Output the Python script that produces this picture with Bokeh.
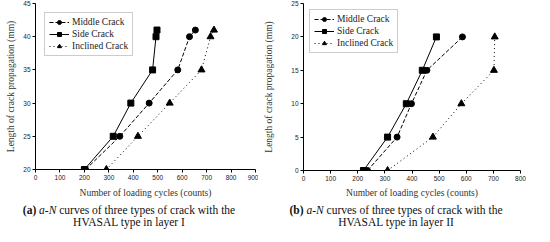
from bokeh.plotting import figure
from bokeh.models import Range1d, Legend, LegendItem, Div
from bokeh.layouts import row, column
from bokeh.embed import file_html
from bokeh.resources import INLINE

# ---- data (a) layer I ----
a_len = [20, 25, 30, 35, 40, 41]
a_middle = [205, 345, 465, 582, 630, 654]
a_side = [200, 318, 390, 479, 493, 497]
a_incl = [290, 419, 549, 679, 716, 730]

# ---- data (b) layer II ----
b_len = [0, 5, 10, 15, 20]
b_middle = [236, 345, 398, 455, 586]
b_side = [221, 310, 379, 438, 490]
b_incl = [310, 477, 582, 702, 705]

a_xticks = list(range(0, 901, 100))
a_yticks = list(range(20, 46, 5))
b_xticks = list(range(0, 801, 100))
b_yticks = list(range(0, 26, 5))

SERIF = "Liberation Serif"
SANS = "Liberation Sans"


def make_fig(xs_list, ylen, xr, yr, xticks, yticks, w, h, bl, br, bt, bb,
             ylab_standoff, xlab_standoff, legend_margin):
    p = figure(width=w, height=h, output_backend="svg", toolbar_location=None,
               x_range=Range1d(*xr), y_range=Range1d(*yr),
               min_border_left=bl, min_border_right=br,
               min_border_top=bt, min_border_bottom=bb)
    p.outline_line_color = None
    p.grid.visible = False
    p.background_fill_color = "white"
    for ax in (p.xaxis[0], p.yaxis[0]):
        ax.axis_line_color = "black"
        ax.axis_line_width = 1
        ax.major_tick_line_color = "black"
        ax.minor_tick_line_color = "black"
        ax.major_tick_out = 3
        ax.major_tick_in = 0
        ax.minor_tick_out = 2
        ax.minor_tick_in = 0
        ax.major_label_text_font = SANS
        ax.major_label_text_font_size = "6.5px"
        ax.major_label_text_color = "#222222"
        ax.major_label_standoff = 2
        ax.axis_label_text_font = SERIF
        ax.axis_label_text_font_style = "normal"
        ax.axis_label_text_color = "#333333"
    p.xaxis.ticker = xticks
    p.yaxis.ticker = yticks
    p.xaxis[0].ticker.num_minor_ticks = 2
    p.yaxis[0].ticker.num_minor_ticks = 2
    p.xaxis.axis_label = "Number of loading cycles (counts)"
    p.yaxis.axis_label = "Length of crack propagation (mm)"
    p.xaxis.axis_label_text_font_size = "9.5px"
    p.yaxis.axis_label_text_font_size = "9.5px"
    p.xaxis.axis_label_standoff = xlab_standoff
    p.yaxis.axis_label_standoff = ylab_standoff

    mid, side, incl = xs_list
    l1 = p.line(mid, ylen, line_color="black", line_width=1, line_dash="4 2")
    m1 = p.scatter(mid, ylen, marker="circle", size=6, color="black")
    l2 = p.line(side, ylen, line_color="black", line_width=1)
    m2 = p.scatter(side, ylen, marker="square", size=6, color="black")
    l3 = p.line(incl, ylen, line_color="black", line_width=1, line_dash="1 3")
    m3 = p.scatter(incl, ylen, marker="triangle", size=7, color="black")

    leg = Legend(items=[
        LegendItem(label="Middle Crack", renderers=[l1, m1]),
        LegendItem(label="Side Crack", renderers=[l2, m2]),
        LegendItem(label="Inclined Crack", renderers=[l3, m3]),
    ], location="top_left")
    leg.label_text_font = SERIF
    leg.label_text_font_size = "9.5px"
    leg.label_text_color = "#222222"
    leg.glyph_width = 20
    leg.glyph_height = 10
    leg.label_height = 10
    leg.spacing = 2
    leg.padding = 4
    leg.label_standoff = 3
    leg.margin = legend_margin
    leg.border_line_color = "#999999"
    leg.border_line_width = 1
    leg.background_fill_color = "white"
    p.add_layout(leg, "center")
    return p


fa = make_fig((a_middle, a_side, a_incl), a_len, (0, 900), (20, 45),
              a_xticks, a_yticks, 258, 200, 35, 3, 3, 31, 4, 5, 9)
fb = make_fig((b_middle, b_side, b_incl), b_len, (0, 800), (0, 25),
              b_xticks, b_yticks, 268, 200, 45, 6, 3, 29, 14, 4, 6)


def caption(letter, layer, width, offset):
    inner = ('<div style="width:%dpx;margin-left:%dpx;text-align:center;'
             'font-family:\'Liberation Serif\';font-size:11.5px;line-height:12px;'
             'color:#111111;padding-top:4px;">'
             '<b>(%s)</b> <i>a-N</i> curves of three types of crack with the<br>'
             'HVASAL type in layer %s</div>') % (width, offset, letter, layer)
    return inner


da = Div(text=caption("a", "I", 258, 0), width=258, height=26, margin=0)
db = Div(text=caption("b", "II", 260, 8), width=268, height=26, margin=0)

layout = row(column(fa, da, spacing=0), column(fb, db, spacing=0), spacing=0)

open("out.html", "w").write(file_html(layout, INLINE))
